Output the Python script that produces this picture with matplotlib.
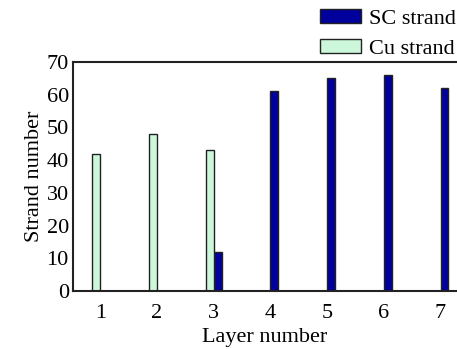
import matplotlib
matplotlib.use('Agg')
import matplotlib.pyplot as plt
import numpy as np

# Datos
capas = [1, 2, 3, 4, 5, 6, 7]
cu_strand = [42, 48, 43, 0, 0, 0, 0]
sc_strand = [0, 0, 12, 61, 65, 66, 62]

plt.rcParams['font.family'] = ['Liberation Serif', 'DejaVu Serif']
plt.rcParams['font.size'] = 16

fig = plt.figure(figsize=(4.57, 3.49), dpi=100)
ax = fig.add_axes([73 / 457, 58 / 349, 1 - 73 / 457, (291 - 62) / 349])

x = np.array(capas)
ancho = 0.14
ax.bar(x + ancho / 2, sc_strand, ancho, color='#00009C', edgecolor='#222222',
       linewidth=1.0, label='SC strand')
ax.bar(x - ancho / 2, cu_strand, ancho, color='#CCF7DA', edgecolor='#222222',
       linewidth=1.0, label='Cu strand')

ax.set_xlim(0.52, 7.29)
ax.set_ylim(0, 70)
ax.set_xticks(capas)
ax.set_yticks(range(0, 71, 10))
ax.tick_params(axis='x', length=0, pad=9)
ax.tick_params(axis='y', length=0, pad=3)
ax.spines['right'].set_visible(False)
for s in ['left', 'top', 'bottom']:
    ax.spines[s].set_linewidth(1.5)
    ax.spines[s].set_color('#222222')

ax.set_xlabel('Layer number', labelpad=4)
ax.set_ylabel('Strand number', labelpad=2)

ax.legend(loc='upper right', bbox_to_anchor=(1.02, 1.27), frameon=False,
          handlelength=1.85, handleheight=0.6, borderaxespad=0, labelspacing=0.45,
          handletextpad=0.35)

fig.savefig('out.png', dpi=100)
